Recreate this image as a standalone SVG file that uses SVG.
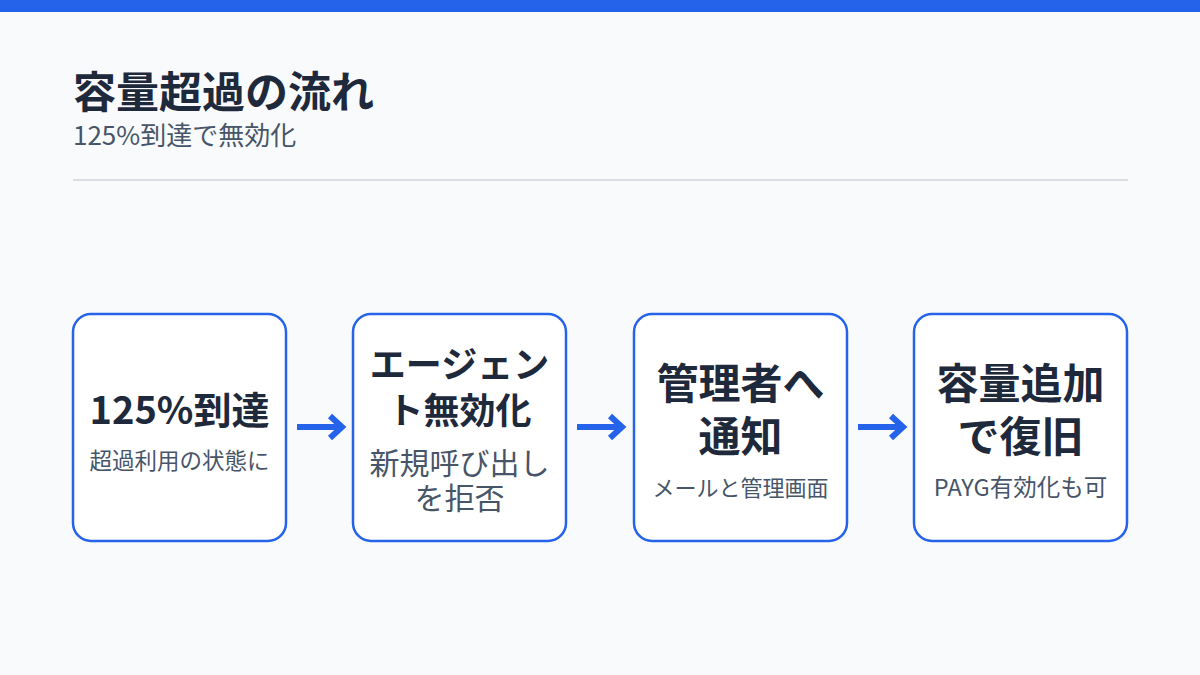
<svg xmlns="http://www.w3.org/2000/svg" width="1200" height="675" viewBox="0 0 1200 675">
<style>
text{font-family:"Noto Sans CJK JP","Noto Sans",sans-serif}
.box{fill:#fff;stroke:#2563eb;stroke-width:2.5}
.t{font-weight:700;fill:#1e293b;text-anchor:middle}
.s{fill:#475569;text-anchor:middle}
.c{stroke:#2563eb;stroke-width:6;fill:none}
</style>
<rect width="1200" height="675" fill="#f8fafc"/>
<rect width="1200" height="12" fill="#2563eb"/>
<text x="73" y="108" font-size="43" font-weight="700" fill="#1e293b">容量超過の流れ</text>
<text x="73" y="145" font-size="26" fill="#475569">125%到達で無効化</text>
<line x1="73" y1="180" x2="1128" y2="180" stroke="#d1d5db" stroke-width="1.5"/>
<g id="n1"><rect class="box" x="73" y="314" width="213" height="227" rx="18"/>
<text class="t" x="179.5" y="424" font-size="38">125%到達</text>
<text class="s" x="179.5" y="469" font-size="22.5">超過利用の状態に</text></g>
<g id="n2"><rect class="box" x="353" y="314" width="213" height="227" rx="18"/>
<text class="t" x="459.5" y="378" font-size="36">エージェン</text>
<text class="t" x="459.5" y="424" font-size="36">ト無効化</text>
<text class="s" x="459.5" y="474" font-size="30">新規呼び出し</text>
<text class="s" x="459.5" y="509" font-size="30">を拒否</text></g>
<g id="n3"><rect class="box" x="634" y="314" width="213" height="227" rx="18"/>
<text class="t" x="740.5" y="399" font-size="42">管理者へ</text>
<text class="t" x="740.5" y="452" font-size="42">通知</text>
<text class="s" x="740.5" y="496" font-size="22">メールと管理画面</text></g>
<g id="n4"><rect class="box" x="914" y="314" width="213" height="227" rx="18"/>
<text class="t" x="1020.5" y="399" font-size="42">容量追加</text>
<text class="t" x="1020.5" y="452" font-size="42">で復旧</text>
<text class="s" x="1020.5" y="496" font-size="23.5">PAYG有効化も可</text></g>
<g id="connectors">
<path class="c" d="M297 427H340M330 416L342 427L330 438"/>
<path class="c" d="M577 427H620M610 416L622 427L610 438"/>
<path class="c" d="M858 427H901M891 416L903 427L891 438"/>
</g>
</svg>
